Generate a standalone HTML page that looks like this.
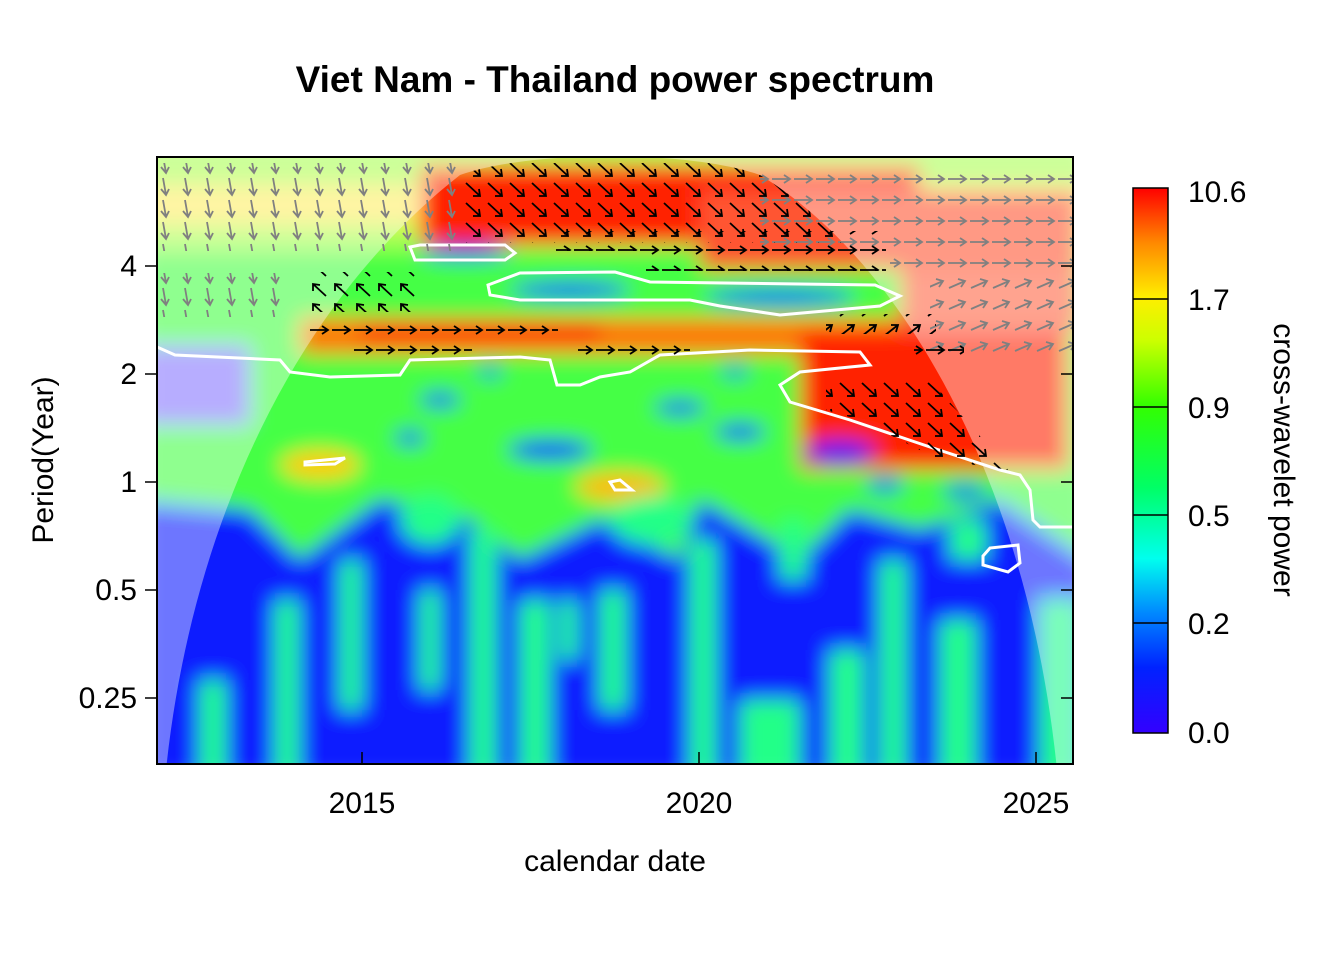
<!DOCTYPE html>
<html><head><meta charset="utf-8"><style>
body{margin:0;background:#fff;}
svg text{font-family:"Liberation Sans",Arial,sans-serif;}
</style></head><body>
<svg width="1344" height="960" xmlns="http://www.w3.org/2000/svg">
<defs>
<clipPath id="pc"><rect x="157" y="157" width="916" height="607"/></clipPath>
<clipPath id="cone"><path d="M165 780 C190 520 300 300 460 175 C530 150 690 150 760 175 C900 260 1030 480 1058 780 Z"/></clipPath>
<filter id="bl" x="-10%" y="-10%" width="120%" height="120%"><feGaussianBlur stdDeviation="10"/></filter>
<linearGradient id="cb" x1="0" y1="1" x2="0" y2="0">
<stop offset="0" stop-color="#3300ff"/><stop offset="0.12" stop-color="#0022ff"/>
<stop offset="0.22" stop-color="#0088ff"/><stop offset="0.32" stop-color="#00ffee"/>
<stop offset="0.45" stop-color="#00ff66"/><stop offset="0.6" stop-color="#33ff00"/>
<stop offset="0.72" stop-color="#ccff00"/><stop offset="0.8" stop-color="#ffee00"/>
<stop offset="0.9" stop-color="#ff8800"/><stop offset="1" stop-color="#ff0000"/>
</linearGradient>
<pattern id="gD" width="22" height="22" patternUnits="userSpaceOnUse"><path d="M9 2 L12 19 M7 13 L12 19 L15 13" stroke="#808080" stroke-width="1.8" fill="none"/></pattern>
<pattern id="gR" width="22" height="21" patternUnits="userSpaceOnUse"><path d="M2 11 L20 11 M14 7 L20 11 L14 15" stroke="#808080" stroke-width="1.8" fill="none"/></pattern>
<pattern id="gU" width="22" height="21" patternUnits="userSpaceOnUse"><path d="M3 15 L19 8 M12 6 L19 8 L15 14" stroke="#808080" stroke-width="1.8" fill="none"/></pattern>
<pattern id="kDR" width="22" height="20" patternUnits="userSpaceOnUse"><path d="M4 3 L18 16 M11 16 L18 16 L17 9" stroke="#000" stroke-width="1.8" fill="none"/></pattern>
<pattern id="kR" width="22" height="20" patternUnits="userSpaceOnUse"><path d="M2 10 L20 10 M14 6 L20 10 L14 14" stroke="#000" stroke-width="1.8" fill="none"/></pattern>
<pattern id="kU" width="22" height="20" patternUnits="userSpaceOnUse"><path d="M4 16 L18 5 M11 5 L18 5 L16 12" stroke="#000" stroke-width="1.8" fill="none"/></pattern>
<pattern id="kUL" width="22" height="20" patternUnits="userSpaceOnUse"><path d="M18 16 L5 4 M5 11 L5 4 L12 5" stroke="#000" stroke-width="1.8" fill="none"/></pattern>
</defs>
<text x="615" y="92" font-size="37" font-weight="bold" text-anchor="middle">Viet Nam - Thailand power spectrum</text>
<g clip-path="url(#pc)">
<g filter="url(#bl)">
<rect x="140" y="140" width="950" height="640" fill="#44ff44"/>
<rect x="140" y="140" width="950" height="110" fill="#aaff55"/>
<rect x="140" y="185" width="950" height="40" fill="#ffee66"/>
<rect x="420" y="165" width="500" height="80" fill="#ff2200"/>
<rect x="700" y="190" width="380" height="80" fill="#ff5533"/>
<rect x="300" y="318" width="640" height="36" fill="#ff7700"/>
<rect x="360" y="322" width="240" height="20" fill="#ff3300"/>
<rect x="800" y="330" width="270" height="140" fill="#ff2200"/>
<rect x="900" y="270" width="180" height="60" fill="#ff6644"/>
<ellipse cx="465" cy="252" rx="45" ry="7" fill="#0033ff"/>
<ellipse cx="570" cy="290" rx="60" ry="8" fill="#0033ff"/>
<ellipse cx="780" cy="297" rx="75" ry="8" fill="#0033ff"/>
<rect x="140" y="345" width="110" height="80" fill="#8877ff"/>
<ellipse cx="440" cy="400" rx="20" ry="7" fill="#0022ff"/>
<ellipse cx="550" cy="450" rx="42" ry="10" fill="#0022ff"/>
<ellipse cx="680" cy="408" rx="25" ry="7" fill="#0022ff"/>
<ellipse cx="740" cy="432" rx="25" ry="8" fill="#0022ff"/>
<ellipse cx="840" cy="452" rx="35" ry="11" fill="#0022ff"/>
<ellipse cx="410" cy="438" rx="15" ry="7" fill="#0022ff"/>
<ellipse cx="490" cy="372" rx="12" ry="5" fill="#0022ff"/>
<ellipse cx="735" cy="372" rx="14" ry="5" fill="#0022ff"/>
<ellipse cx="885" cy="485" rx="18" ry="7" fill="#0022ff"/>
<ellipse cx="965" cy="492" rx="22" ry="7" fill="#0022ff"/>
<ellipse cx="320" cy="465" rx="40" ry="15" fill="#ffcc00"/>
<ellipse cx="620" cy="487" rx="45" ry="15" fill="#ffbb00"/>
<ellipse cx="760" cy="565" rx="60" ry="20" fill="#ffee00"/>
<ellipse cx="1000" cy="555" rx="40" ry="30" fill="#ff5500"/>
<ellipse cx="780" cy="730" rx="25" ry="25" fill="#ff5500"/>
<ellipse cx="480" cy="730" rx="15" ry="25" fill="#ffdd00"/>
<path d="M140 500 L250 510 L300 560 L380 500 L470 520 L520 560 L600 520 L680 560 L700 500 L800 560 L850 510 L920 530 L1000 500 L1090 560 L1090 780 L140 780 Z" fill="#0a1cff"/>
<g fill="#22ff88">
<rect x="275" y="600" width="24" height="180"/><rect x="340" y="560" width="22" height="150"/>
<rect x="420" y="590" width="20" height="100"/><rect x="470" y="530" width="26" height="250"/>
<rect x="520" y="600" width="30" height="180"/><rect x="600" y="590" width="26" height="120"/>
<rect x="690" y="540" width="26" height="240"/><rect x="740" y="700" width="60" height="80"/>
<rect x="830" y="650" width="34" height="130"/><rect x="880" y="560" width="26" height="220"/>
<rect x="940" y="620" width="36" height="160"/><rect x="1040" y="600" width="40" height="180"/>
<rect x="200" y="680" width="26" height="100"/><rect x="560" y="600" width="18" height="60"/>
<rect x="780" y="520" width="26" height="60"/><rect x="950" y="520" width="36" height="40"/>
</g>
<ellipse cx="430" cy="520" rx="30" ry="25" fill="#22ff88"/>
<ellipse cx="650" cy="520" rx="40" ry="25" fill="#22ff88"/>
</g>
<path fill-rule="evenodd" fill="#fff" fill-opacity="0.4" d="M140 140 H1090 V780 H140 Z M165 780 C190 520 300 300 460 175 C530 150 690 150 760 175 C900 260 1030 480 1058 780 Z"/>
<g fill="none" stroke="#fff" stroke-width="3">
<path d="M157 347 L175 355 L280 360 L290 372 L330 377 L400 375 L410 360 L520 357 L550 360 L557 385 L580 385 L600 377 L630 372 L660 355 L750 350 L860 352 L870 365 L800 372 L780 385 L790 402 L850 420 L930 447 L1000 470 L1020 475 L1030 490 L1033 520 L1040 527 L1073 527"/>
<path d="M410 247 L420 245 L505 245 L515 253 L505 260 L415 260 Z"/>
<path d="M488 285 L520 273 L615 272 L650 282 L875 285 L900 296 L880 306 L780 315 L720 306 L690 300 L520 300 L490 295 Z"/>
<path d="M305 462 L345 458 L335 464 L305 465 Z"/>
<path d="M610 482 L620 480 L632 490 L615 490 Z"/>
<path d="M983 556 L990 548 L1018 545 L1020 563 L1008 572 L983 565 Z"/>
</g>
<rect x="157" y="163" width="308" height="88" fill="url(#gD)"/>
<rect x="157" y="273" width="130" height="44" fill="url(#gD)"/>
<rect x="760" y="166" width="313" height="84" fill="url(#gR)"/>
<rect x="890" y="250" width="183" height="20" fill="url(#gR)"/>
<rect x="930" y="272" width="143" height="84" fill="url(#gU)"/>
<g clip-path="url(#cone)">
<rect x="460" y="163" width="420" height="80" fill="url(#kDR)"/>
</g>
<rect x="556" y="231" width="330" height="20" fill="url(#kR)"/>
<rect x="646" y="251" width="240" height="20" fill="url(#kR)"/>
<rect x="308" y="272" width="110" height="40" fill="url(#kUL)"/>
<rect x="308" y="316" width="250" height="20" fill="url(#kR)"/>
<rect x="352" y="336" width="120" height="20" fill="url(#kR)"/>
<rect x="578" y="336" width="112" height="20" fill="url(#kR)"/>
<rect x="826" y="314" width="110" height="20" fill="url(#kU)"/>
<rect x="914" y="336" width="50" height="20" fill="url(#kR)"/>
<path d="M826 380 L930 380 L1010 470 L940 460 L860 420 L826 410 Z" fill="url(#kDR)"/>
</g>
<rect x="157" y="157" width="916" height="607" fill="none" stroke="#000" stroke-width="2"/>
<g stroke="#000" stroke-width="1.5">
<line x1="362" y1="764" x2="362" y2="752"/><line x1="699" y1="764" x2="699" y2="752"/><line x1="1036" y1="764" x2="1036" y2="752"/>
<line x1="157" y1="266" x2="145" y2="266"/><line x1="157" y1="374" x2="145" y2="374"/><line x1="157" y1="482" x2="145" y2="482"/><line x1="157" y1="590" x2="145" y2="590"/><line x1="157" y1="698" x2="145" y2="698"/>
<line x1="1073" y1="266" x2="1061" y2="266"/><line x1="1073" y1="374" x2="1061" y2="374"/><line x1="1073" y1="482" x2="1061" y2="482"/><line x1="1073" y1="590" x2="1061" y2="590"/><line x1="1073" y1="698" x2="1061" y2="698"/>
</g>
<g font-size="30" text-anchor="end">
<text x="137" y="276">4</text><text x="137" y="384">2</text><text x="137" y="492">1</text><text x="137" y="600">0.5</text><text x="137" y="708">0.25</text>
</g>
<g font-size="30" text-anchor="middle">
<text x="362" y="813">2015</text><text x="699" y="813">2020</text><text x="1036" y="813">2025</text>
<text x="615" y="871">calendar date</text>
</g>
<text transform="translate(53,460) rotate(-90)" font-size="30" text-anchor="middle">Period(Year)</text>
<rect x="1133" y="188" width="35" height="545" fill="url(#cb)" stroke="#000" stroke-width="1.5"/>
<g stroke="#000" stroke-width="1.5">
<line x1="1133" y1="299" x2="1168" y2="299"/><line x1="1133" y1="407" x2="1168" y2="407"/><line x1="1133" y1="515" x2="1168" y2="515"/><line x1="1133" y1="623" x2="1168" y2="623"/>
</g>
<g font-size="30">
<text x="1188" y="202">10.6</text><text x="1188" y="310">1.7</text><text x="1188" y="418">0.9</text><text x="1188" y="526">0.5</text><text x="1188" y="634">0.2</text><text x="1188" y="743">0.0</text>
</g>
<text transform="translate(1274,460) rotate(90)" font-size="30" text-anchor="middle">cross-wavelet power</text>
</svg>
</body></html>
